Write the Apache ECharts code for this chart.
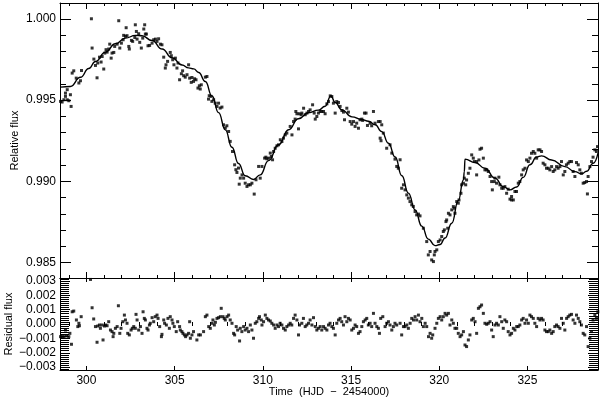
<!DOCTYPE html>
<html>
<head>
<meta charset="utf-8">
<script src="https://cdn.jsdelivr.net/npm/echarts@6/dist/echarts.min.js"></script>
<style>
  html, body { margin: 0; padding: 0; background: #fff; }
  #chart { width: 600px; height: 399px; }
</style>
</head>
<body>
<div id="chart"></div>
<script>
// observed light curve: [HJD - 2454000, relative flux]
var fluxPoints = [
  [298.53,0.99492],[298.62,0.99488],[298.72,0.99502],[298.81,0.99523],[298.91,0.99502],[299.00,0.99496],[299.09,0.99533],[299.13,0.99461],[298.91,0.99564],[298.81,0.99543],
  [299.19,0.99666],[299.28,0.99680],[299.42,0.99635],[299.57,0.99605],[299.66,0.99619],[299.72,0.99682],[300.28,1.00000],[300.32,0.99820],[300.42,0.99752],[300.51,0.99713],
  [300.64,0.99728],[300.60,0.99637],[300.74,0.99764],[300.83,0.99734],[300.89,0.99768],[300.98,0.99691],[301.04,0.99789],[301.11,0.99810],[301.17,0.99795],[301.26,0.99814],
  [301.32,0.99844],[301.40,0.99758],[301.45,0.99789],[301.55,0.99793],[301.60,0.99830],[301.74,0.99844],[301.83,0.99988],[301.89,0.99820],[301.98,0.99850],[302.08,0.99871],
  [302.11,0.99898],[302.21,0.99892],[302.25,0.99945],[302.30,0.99896],[302.40,0.99830],[302.43,0.99814],[302.55,0.99867],[302.62,0.99861],[302.74,0.99885],[302.77,0.99963],
  [302.83,0.99922],[302.87,0.99875],[302.96,0.99908],[303.02,0.99855],[303.11,0.99820],[303.19,0.99881],[303.25,0.99937],[303.30,0.99963],[303.34,0.99906],[303.40,0.99906],
  [303.49,0.99834],[303.58,0.99836],[303.72,0.99850],[303.81,0.99871],[303.91,0.99875],[304.00,0.99861],[304.09,0.99877],[304.19,0.99844],[304.28,0.99840],[304.38,0.99764],
  [304.47,0.99697],[304.51,0.99717],[304.60,0.99738],[304.75,0.99793],[304.81,0.99773],[304.89,0.99748],[304.96,0.99717],[305.04,0.99758],[305.13,0.99697],[305.19,0.99728],
  [305.28,0.99625],[305.38,0.99662],[305.45,0.99680],[305.51,0.99650],[305.60,0.99641],[305.70,0.99656],[305.79,0.99717],[305.85,0.99635],[305.94,0.99609],[305.98,0.99639],
  [306.07,0.99615],[306.13,0.99631],[306.21,0.99625],[306.32,0.99574],[306.40,0.99588],[306.45,0.99568],[306.51,0.99594],[306.74,0.99641],[306.83,0.99645],[306.92,0.99506],
  [306.96,0.99527],[307.06,0.99523],[307.11,0.99492],[307.21,0.99502],[307.30,0.99481],[307.40,0.99461],[307.49,0.99481],[307.58,0.99451],[307.68,0.99457],[307.77,0.99348],
  [307.87,0.99328],[307.96,0.99342],[308.06,0.99307],[308.15,0.99246],[308.28,0.99184],[308.40,0.99102],[308.47,0.99072],[308.53,0.99055],[308.62,0.99082],[308.66,0.98983],
  [308.72,0.99020],[308.82,0.99040],[308.91,0.99020],[309.00,0.98989],[309.10,0.98969],[309.19,0.98979],[309.29,0.98979],[309.38,0.98989],[309.51,0.98922],[309.61,0.99010],
  [309.76,0.99092],[309.85,0.99020],[309.95,0.99092],[310.10,0.99143],[310.17,0.99149],[310.23,0.99139],[310.33,0.99143],[310.42,0.99174],[310.48,0.99153],[310.55,0.99133],
  [310.61,0.99184],[310.70,0.99204],[310.80,0.99219],[310.89,0.99225],[310.99,0.99256],[311.08,0.99245],[311.17,0.99266],[311.27,0.99286],[311.36,0.99297],[311.55,0.99338],
  [311.65,0.99286],[311.74,0.99368],[311.83,0.99383],[311.87,0.99430],[311.93,0.99416],[312.02,0.99323],[312.06,0.99416],[312.17,0.99410],[312.21,0.99420],[312.31,0.99450],
  [312.40,0.99410],[312.50,0.99420],[312.59,0.99430],[312.68,0.99440],[312.82,0.99471],[312.91,0.99420],[312.97,0.99383],[313.06,0.99399],[313.15,0.99420],[313.25,0.99430],
  [313.34,0.99430],[313.44,0.99430],[313.53,0.99416],[313.63,0.99477],[313.72,0.99491],[313.82,0.99526],[313.91,0.99522],[314.00,0.99481],[314.10,0.99420],[314.19,0.99491],
  [314.29,0.99485],[314.38,0.99461],[314.48,0.99436],[314.57,0.99426],[314.63,0.99379],[314.76,0.99450],[314.85,0.99426],[314.95,0.99368],[315.04,0.99352],[315.14,0.99368],
  [315.23,0.99338],[315.32,0.99358],[315.42,0.99327],[315.51,0.99379],[315.61,0.99383],[315.66,0.99375],[315.76,0.99420],[315.85,0.99420],[315.93,0.99344],[316.08,0.99358],
  [316.17,0.99342],[316.27,0.99430],[316.36,0.99358],[316.55,0.99368],[316.65,0.99368],[316.74,0.99348],[316.65,0.99266],[316.70,0.99250],[316.83,0.99297],[317.02,0.99204],
  [317.21,0.99225],[317.31,0.99174],[317.49,0.99137],[317.59,0.99092],[317.68,0.99081],[317.78,0.99133],[317.87,0.98958],[317.97,0.98979],[318.06,0.98948],[318.16,0.98917],
  [318.25,0.98897],[318.34,0.98876],[318.44,0.98856],[318.53,0.98846],[318.63,0.98815],[318.72,0.98794],[318.82,0.98799],[318.91,0.98788],
  [319.10,0.98712],[319.29,0.98630],[319.38,0.98548],[319.48,0.98569],[319.57,0.98517],[319.67,0.98507],[319.72,0.98548],[319.76,0.98569],[319.86,0.98579],[319.95,0.98630],
  [320.05,0.98640],[320.14,0.98661],[320.23,0.98692],[320.29,0.98702],[320.38,0.98753],[320.42,0.98763],[320.48,0.98712],[320.52,0.98804],[320.61,0.98794],[320.71,0.98825],
  [320.80,0.98845],[320.86,0.98835],[320.89,0.98804],[320.99,0.98876],[321.08,0.98866],[321.12,0.98886],[321.23,0.98927],[321.27,0.98979],[321.37,0.98989],[321.42,0.99020],
  [321.50,0.98979],[321.55,0.99009],[321.65,0.99050],[321.74,0.99081],[321.84,0.99163],[321.93,0.99143],[321.99,0.99122],[322.12,0.99040],[322.12,0.99122],[322.25,0.99132],
  [322.31,0.99198],[322.40,0.99204],[322.50,0.99143],[322.59,0.99071],[322.69,0.99071],[322.78,0.99061],[322.88,0.99030],[322.97,0.98999],[323.01,0.98948],[323.12,0.98999],
  [323.16,0.99020],[323.25,0.98989],[323.38,0.99026],[323.44,0.98979],[323.54,0.98958],[323.63,0.98958],[323.72,0.98968],[323.82,0.98927],[323.91,0.98952],[324.01,0.98891],
  [324.10,0.98886],[324.20,0.98886],[324.10,0.98907],[324.29,0.98938],[324.38,0.98938],[324.48,0.98989],[324.57,0.98999],[324.67,0.99040],[324.76,0.99071],[324.86,0.99081],
  [324.95,0.99132],[325.05,0.99122],[325.14,0.99143],[325.23,0.99173],[325.33,0.99184],[325.42,0.99173],[325.52,0.99143],[325.61,0.99194],[325.71,0.99194],[325.80,0.99184],
  [325.89,0.99112],[325.99,0.99102],[326.08,0.99081],[326.18,0.99081],[326.27,0.99071],[326.37,0.99091],[326.46,0.99061],[326.55,0.99071],[326.65,0.99091],[326.74,0.99081],
  [326.84,0.99091],[326.93,0.99122],[327.03,0.99040],[327.12,0.99061],[327.21,0.99102],[327.31,0.99112],[327.40,0.99122],[327.50,0.99122],[327.59,0.99061],[327.69,0.99030],
  [327.78,0.99116],[327.88,0.99102],[327.97,0.99071],[328.06,0.99050],[328.16,0.98989],[328.25,0.98993],[328.35,0.98999],[328.40,0.98923],[328.44,0.99030],[328.54,0.99091],
  [328.63,0.99122],[328.72,0.99149],[328.82,0.99194],[328.91,0.99184],[328.97,0.99214]
];

// fitted model curve
var modelPoints = [
  [298.53,0.99580],[299.09,0.99584],[299.66,0.99640],[300.13,0.99694],[300.51,0.99737],[301.08,0.99795],[301.64,0.99846],[302.21,0.99881],
  [302.78,0.99898],[303.15,0.99896],[303.72,0.99866],[304.29,0.99814],[304.85,0.99760],[305.42,0.99716],[305.79,0.99698],[306.08,0.99692],
  [306.36,0.99670],[306.74,0.99614],[307.12,0.99525],[307.49,0.99423],[307.87,0.99317],[308.25,0.99210],[308.62,0.99110],[309.00,0.99035],
  [309.47,0.99012],[309.85,0.99040],[310.32,0.99128],[310.89,0.99225],[311.46,0.99318],[312.02,0.99385],[312.59,0.99422],[313.15,0.99438],
  [313.53,0.99462],[313.86,0.99526],[314.10,0.99485],[314.48,0.99440],[315.05,0.99397],[315.61,0.99380],[315.99,0.99370],[316.37,0.99348],
  [316.74,0.99306],[317.12,0.99235],[317.50,0.99150],[317.88,0.99035],[318.25,0.98928],[318.63,0.98825],[319.01,0.98725],[319.38,0.98645],
  [319.76,0.98605],[320.05,0.98612],[320.33,0.98652],[320.71,0.98743],[321.08,0.98882],[321.37,0.99009],[321.42,0.99060],[321.46,0.99137],
  [322.03,0.99116],[322.59,0.99081],[323.16,0.99020],[323.63,0.98968],[324.01,0.98948],[324.39,0.98966],[324.76,0.99025],[325.14,0.99102],
  [325.52,0.99150],[325.80,0.99157],[326.37,0.99132],[327.12,0.99091],[327.69,0.99060],[328.07,0.99046],[328.35,0.99062],[328.73,0.99112],
  [329.00,0.99174]
];

// residuals (data - model)
var residPoints = [
  [298.53,-0.00088],[298.62,-0.00088],[298.72,-0.00088],[298.81,-0.00042],[298.87,-0.00083],[299.00,-0.00088],[299.06,-0.00065],[299.15,-0.00141],[299.19,0.00085],[299.28,0.00090],
  [299.43,0.00028],[299.51,-0.00018],[299.57,0.00005],[299.60,-0.00012],[299.70,0.00051],[300.23,0.00310],[300.32,0.00113],[300.41,0.00035],[300.51,-0.00018],[300.60,-0.00127],
  [300.64,-0.00014],[300.74,-0.00007],[300.79,-0.00030],[300.89,-0.00007],[300.94,-0.00111],[301.02,-0.00014],[301.09,-0.00007],[301.17,-0.00012],[301.26,0.00016],[301.36,-0.00042],
  [301.45,-0.00053],[301.51,-0.00088],[301.55,-0.00065],[301.64,-0.00030],[301.74,-0.00018],[301.81,0.00127],[301.89,-0.00065],[301.96,-0.00030],[302.06,0.00016],[302.15,0.00062],
  [302.21,0.00028],[302.30,0.00005],[302.34,-0.00065],[302.43,-0.00076],[302.53,-0.00042],[302.60,-0.00030],[302.68,-0.00018],[302.77,-0.00030],[302.81,0.00067],[302.87,0.00028],
  [302.96,-0.00042],[303.06,-0.00018],[303.15,-0.00065],[303.21,0.00085],[303.28,0.00039],[303.34,0.00028],[303.43,-0.00030],[303.49,-0.00042],[303.57,-0.00007],[303.62,0.00005],
  [303.72,0.00044],[303.81,0.00016],[303.90,0.00051],[304.00,0.00062],[304.06,0.00039],[304.15,-0.00018],[304.25,-0.00088],[304.28,-0.00072],[304.38,0.00028],[304.43,0.00005],
  [304.53,-0.00007],[304.62,0.00039],[304.70,-0.00030],[304.75,0.00051],[304.85,0.00028],[304.90,0.00005],[304.98,-0.00018],[305.09,-0.00053],[305.17,0.00016],[305.28,-0.00018],
  [305.32,-0.00042],[305.41,-0.00053],[305.47,-0.00065],[305.55,-0.00076],[305.62,-0.00088],[305.70,-0.00076],[305.79,-0.00065],[305.85,0.00016],[305.89,-0.00099],[305.98,-0.00076],
  [306.07,-0.00053],[306.26,-0.00111],[306.36,-0.00076],
  [306.46,-0.00076],[306.64,-0.00053],[306.74,0.00051],[306.83,0.00062],[306.93,-0.00018],[307.02,-0.00030],[307.12,0.00005],[307.17,0.00028],[307.25,-0.00007],[307.31,0.00012],
  [307.40,0.00039],[307.49,0.00044],[307.59,0.00051],[307.64,0.00109],[307.74,0.00051],[307.81,0.00039],[307.87,0.00028],[307.97,0.00051],[308.06,0.00062],[308.15,0.00028],
  [308.25,0.00005],[308.34,-0.00065],[308.40,-0.00076],[308.49,-0.00018],[308.57,-0.00042],[308.68,-0.00118],[308.72,-0.00030],[308.81,-0.00053],[308.91,-0.00018],[309.00,-0.00042],
  [309.10,-0.00030],[309.19,-0.00053],[309.29,-0.00007],[309.38,-0.00042],[309.47,-0.00099],[309.57,0.00005],[309.66,0.00016],[309.76,0.00039],[309.81,0.00051],[309.91,0.00028],
  [309.95,-0.00007],[310.04,0.00016],[310.14,0.00062],[310.23,0.00039],[310.32,0.00028],[310.42,0.00021],[310.51,0.00005],[310.61,-0.00007],[310.70,-0.00030],[310.80,-0.00007],
  [310.89,-0.00018],[310.98,0.00005],[311.08,-0.00007],[311.17,-0.00030],[311.27,-0.00042],[311.36,-0.00018],[311.46,-0.00007],[311.55,0.00005],[311.64,-0.00007],[311.74,0.00039],
  [311.83,0.00062],[311.93,0.00028],[312.02,-0.00076],[312.08,-0.00007],[312.21,0.00005],[312.30,0.00039],[312.40,-0.00018],[312.49,-0.00007],[312.59,0.00005],[312.68,0.00028],
  [312.78,-0.00007],[312.87,0.00044],[312.97,-0.00018],[313.06,-0.00042],[313.15,-0.00030],[313.25,-0.00018],[313.34,-0.00042],[313.44,-0.00018],[313.53,-0.00030],[313.63,-0.00042],
  [313.72,-0.00007],[313.81,0.00005],[313.91,-0.00018],[314.00,-0.00030],[314.10,-0.00076],[314.19,0.00005],[314.29,0.00028],[314.38,0.00039],[314.47,0.00016],[314.57,-0.00007],
  [314.66,0.00051],[314.76,0.00016],[314.85,0.00039],[314.95,0.00028],[315.04,-0.00042],[315.14,-0.00030],[315.23,-0.00007],[315.32,-0.00018],[315.42,-0.00065],[315.51,-0.00053],
  [315.61,-0.00018],[315.70,0.00016],[315.80,0.00028],[315.89,0.00039],[315.98,-0.00007],[316.08,0.00005],[316.17,-0.00018],[316.27,0.00074],[316.36,0.00005],[316.46,-0.00018],
  [316.55,-0.00030],[316.61,-0.00065],[316.68,0.00039],[316.80,0.00051],[316.93,-0.00018],[317.02,0.00005],[317.12,0.00016],[317.21,-0.00007],[317.31,-0.00042],[317.40,-0.00018],
  [317.49,0.00005],[317.59,-0.00007],
  [317.78,0.00005],[317.87,-0.00076],[317.97,-0.00018],[318.06,-0.00018],[318.16,-0.00007],[318.25,-0.00030],[318.35,0.00005],[318.44,0.00039],[318.54,0.00028],[318.63,0.00051],
  [318.72,0.00028],[318.82,0.00062],[318.91,0.00016],[319.01,0.00039],[319.10,-0.00018],[319.20,0.00005],[319.29,-0.00018],[319.39,-0.00088],[319.48,-0.00065],[319.57,-0.00099],
  [319.63,-0.00076],[319.76,-0.00030],[319.86,0.00005],[319.95,0.00039],[320.05,0.00051],[320.14,0.00028],[320.23,0.00051],[320.33,0.00074],[320.42,0.00062],[320.52,0.00074],
  [320.61,-0.00007],[320.71,0.00028],[320.80,0.00005],[320.89,-0.00030],[320.99,-0.00030],[321.08,-0.00065],[321.18,-0.00088],[321.27,-0.00076],[321.37,-0.00053],[321.46,-0.00146],
  [321.55,-0.00157],[321.65,-0.00111],[321.74,-0.00076],[321.84,0.00028],[321.93,0.00039],[322.03,0.00016],[322.12,-0.00065],[322.22,0.00109],[322.31,0.00120],[322.40,0.00132],
  [322.50,0.00074],[322.59,0.00005],[322.69,-0.00002],[322.78,0.00005],[322.88,0.00016],[322.97,-0.00042],[323.06,-0.00088],[323.16,-0.00007],[323.25,0.00005],[323.35,-0.00007],
  [323.44,0.00051],[323.54,0.00016],[323.63,-0.00030],[323.72,0.00028],[323.82,0.00016],[323.91,-0.00053],[324.01,-0.00076],[324.10,-0.00065],[324.20,-0.00030],[324.29,-0.00042],
  [324.39,-0.00018],[324.48,-0.00018],[324.57,-0.00007],[324.67,0.00028],[324.76,0.00039],[324.86,0.00005],[324.95,0.00028],[325.05,0.00005],[325.14,0.00062],[325.23,0.00051],
  [325.33,0.00039],[325.42,0.00005],[325.52,-0.00018],[325.61,0.00039],[325.71,0.00028],[325.80,0.00039],[325.89,0.00028],[325.99,-0.00042],[326.08,-0.00053],[326.18,-0.00053],
  [326.27,-0.00042],[326.37,-0.00065],[326.46,-0.00053],[326.55,-0.00018],[326.65,-0.00007],[326.74,-0.00018],[326.84,-0.00030],[326.93,0.00039],[327.03,0.00005],[327.12,-0.00042],
  [327.22,0.00039],[327.31,0.00051],[327.40,0.00062],[327.50,0.00067],[327.59,0.00028],[327.69,0.00005],[327.78,0.00062],[327.88,0.00039],[327.97,0.00016],[328.06,-0.00007],
  [328.16,-0.00065],[328.25,-0.00076],[328.35,-0.00018],[328.44,-0.00157],[328.54,-0.00099],[328.63,-0.00053],[328.72,0.00028],[328.82,0.00062],[328.91,0.00039],[328.99,0.00085]
];

// ticks
var timeTicks = [300, 305, 310, 315, 320, 325];
var timeMinorTicks = [299, 301, 302, 303, 304, 306, 307, 308, 309, 311, 312, 313, 314, 316, 317, 318, 319, 321, 322, 323, 324, 326, 327, 328, 329];
var fluxTicks = [0.985, 0.990, 0.995, 1.000];
var fluxMinorTicks = [0.986, 0.987, 0.988, 0.989, 0.991, 0.992, 0.993, 0.994, 0.996, 0.997, 0.998, 0.999];
var residTicks = [-0.003, -0.002, -0.001, 0, 0.001, 0.002, 0.003];
var residMinorTicks = [];
for (var k = -22; k <= 22; k++) residMinorTicks.push(k * 0.001 / 7);

var T_MIN = 298.5, T_MAX = 329.0;
var F_MIN = 0.98406, F_MAX = 1.00097;
var R_MIN = -0.0032, R_MAX = 0.0032;

var FONT = '"Liberation Sans", Arial, sans-serif';
var INK = '#000';

function ax(gridIndex, position, min, max, ticks, len, extra) {
  var a = {
    type: 'value',
    gridIndex: gridIndex,
    position: position,
    min: min,
    max: max,
    nameMoveOverlap: false,
    axisLine: { show: true, onZero: false, lineStyle: { color: INK, width: 1 } },
    axisTick: { show: true, inside: true, length: len, customValues: ticks, lineStyle: { color: INK, width: 1 } },
    axisLabel: { show: false },
    splitLine: { show: false }
  };
  return Object.assign(a, extra || {});
}

function fmtFlux(v) { return v.toFixed(3); }
function fmtResid(v) {
  if (Math.abs(v) < 1e-9) return '0.000';
  return (v < 0 ? '\u2212' : '') + Math.abs(v).toFixed(3);
}

function gridBox(top, height) {
  return { left: 60, right: 2, top: top, height: height, containLabel: false, outerBoundsMode: 'none' };
}

var chart = echarts.init(document.getElementById('chart'), null, { renderer: 'canvas' });

var option = {
  animation: false,
  backgroundColor: '#fff',
  grid: [
    gridBox(3, 275),    // main, major ticks
    gridBox(278, 92),   // residuals, major ticks
    gridBox(3, 275),    // main, minor ticks
    gridBox(278, 92)    // residuals, minor ticks
  ],
  xAxis: [
    ax(0, 'bottom', T_MIN, T_MAX, timeTicks, 6),
    ax(0, 'top', T_MIN, T_MAX, timeTicks, 6),
    ax(1, 'bottom', T_MIN, T_MAX, timeTicks, 4, {
      name: 'Time  (HJD  \u2212  2454000)',
      nameLocation: 'middle',
      nameGap: 16,
      nameTextStyle: { fontFamily: FONT, fontSize: 11, color: INK },
      axisLabel: { show: true, customValues: timeTicks, margin: 5, fontFamily: FONT, fontSize: 12, color: INK }
    }),
    ax(1, 'top', T_MIN, T_MAX, timeTicks, 4),
    ax(2, 'bottom', T_MIN, T_MAX, timeMinorTicks, 3, { axisLine: { show: false } }),
    ax(2, 'top', T_MIN, T_MAX, timeMinorTicks, 3, { axisLine: { show: false } }),
    ax(3, 'bottom', T_MIN, T_MAX, timeMinorTicks, 2, { axisLine: { show: false } }),
    ax(3, 'top', T_MIN, T_MAX, timeMinorTicks, 2, { axisLine: { show: false } })
  ],
  yAxis: [
    ax(0, 'left', F_MIN, F_MAX, fluxTicks, 11, {
      name: 'Relative flux',
      nameLocation: 'middle',
      nameGap: 40,
      nameTextStyle: { fontFamily: FONT, fontSize: 11, color: INK },
      axisLabel: { show: true, customValues: fluxTicks, margin: 4, align: 'right', verticalAlign: 'middle',
        fontFamily: FONT, fontSize: 12, color: INK, formatter: fmtFlux }
    }),
    ax(0, 'right', F_MIN, F_MAX, fluxTicks, 11),
    ax(1, 'left', R_MIN, R_MAX, residTicks, 10, {
      name: 'Residual flux',
      nameLocation: 'middle',
      nameGap: 46,
      nameTextStyle: { fontFamily: FONT, fontSize: 11, color: INK },
      axisLabel: { show: true, customValues: residTicks, margin: 4, align: 'right', verticalAlign: 'middle',
        fontFamily: FONT, fontSize: 12, color: INK, formatter: fmtResid }
    }),
    ax(1, 'right', R_MIN, R_MAX, residTicks, 10),
    ax(2, 'left', F_MIN, F_MAX, fluxMinorTicks, 6, { axisLine: { show: false } }),
    ax(2, 'right', F_MIN, F_MAX, fluxMinorTicks, 6, { axisLine: { show: false } }),
    ax(3, 'left', R_MIN, R_MAX, residMinorTicks, 9, { axisLine: { show: false } }),
    ax(3, 'right', R_MIN, R_MAX, residMinorTicks, 9, { axisLine: { show: false } })
  ],
  series: [
    {
      name: 'data',
      type: 'scatter',
      xAxisIndex: 0,
      yAxisIndex: 0,
      symbol: 'rect',
      symbolSize: 3,
      itemStyle: { color: INK },
      data: fluxPoints
    },
    {
      name: 'model',
      type: 'line',
      xAxisIndex: 0,
      yAxisIndex: 0,
      showSymbol: false,
      smooth: 0.5,
      smoothMonotone: 'x',
      lineStyle: { color: INK, width: 1.4 },
      data: modelPoints
    },
    {
      name: 'residuals',
      type: 'scatter',
      xAxisIndex: 2,
      yAxisIndex: 2,
      symbol: 'rect',
      symbolSize: 3,
      itemStyle: { color: INK },
      data: residPoints
    }
  ]
};

chart.setOption(option);
</script>
</body>
</html>
